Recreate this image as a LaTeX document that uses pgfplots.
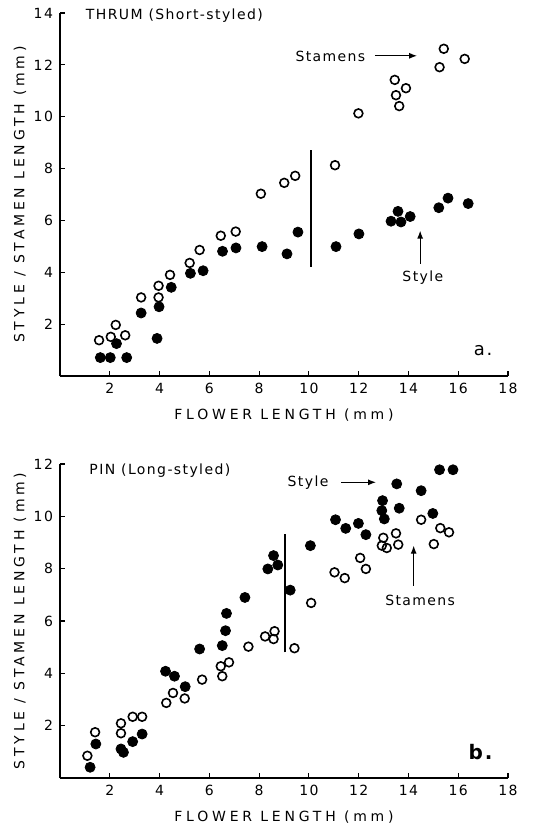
\documentclass[border=0pt]{standalone}
\usepackage{fontspec}
\setmainfont{DejaVu Sans}[LetterSpace=10]
\newfontfamily\labfont{DejaVu Sans}[LetterSpace=27]
\usepackage{pgfplots}
\pgfplotsset{compat=1.18}
\usetikzlibrary{arrows.meta}

\tikzset{note/.style={font=\fontsize{7}{8}\selectfont}}
\pgfplotsset{
  panel/.style={
    scale only axis, width=224pt,
    xmin=0, xmax=18, ymin=0,
    axis lines=left, axis line style={-, line width=0.8pt},
    xtick={2,4,...,18},
    tick align=inside, major tick length=2.5pt,
    tick style={line width=0.6pt, black},
    /pgf/number format/assume math mode=true,
    tick label style={font=\fontsize{7}{8}\selectfont},
    label style={font=\labfont\fontsize{7}{8}\selectfont},
    xlabel={FLOWER LENGTH (mm)},
    ylabel={STYLE / STAMEN LENGTH (mm)},
    xlabel style={at={(axis description cs:0.5,0)}, anchor=center, yshift=-19.5pt},
    ylabel style={at={(axis description cs:-0.0893,0.5)}, anchor=center},
    clip=false,
  },
  stamen/.style={only marks, mark=o, mark size=2.2pt, mark options={line width=0.8pt, black}},
  stylem/.style={only marks, mark=*, mark size=2.5pt, black},
}

\begin{document}
\begin{tikzpicture}
\path[use as bounding box] (-30pt,-227.5pt) rectangle (245.5pt,188pt);

% a. thrum
\begin{axis}[panel, height=181.5pt, ymax=14, ytick={2,4,...,14}]
\addplot[stamen] coordinates {
  (1.57,1.38) (2.04,1.51) (2.24,1.97) (2.62,1.57) (3.26,3.03) (3.96,3.48)
  (3.96,3.03) (4.42,3.90) (5.21,4.36) (5.61,4.86) (6.46,5.41) (7.06,5.57)
  (8.07,7.03) (9.01,7.45) (9.45,7.72) (11.05,8.13) (11.99,10.13) (13.45,11.42)
  (13.50,10.83) (13.63,10.41) (13.90,11.10) (15.25,11.91) (15.42,12.62) (16.26,12.23)
};
\addplot[stylem] coordinates {
  (1.62,0.71) (2.02,0.71) (2.27,1.25) (2.68,0.71) (3.26,2.43) (3.90,1.45)
  (3.98,2.67) (4.47,3.42) (5.24,3.96) (5.75,4.06) (6.53,4.81) (7.07,4.94)
  (8.12,4.99) (9.12,4.71) (9.56,5.55) (11.09,4.99) (12.01,5.48) (13.30,5.97)
  (13.58,6.35) (13.70,5.94) (14.07,6.15) (15.22,6.49) (15.59,6.86) (16.40,6.65)
};
\addplot[black, line width=0.8pt] coordinates {(10.09,4.22) (10.09,8.71)};
\node[note, anchor=west] at (axis cs:0.76,13.9) {THRUM (Short-styled)};
\node[note, anchor=east] at (axis cs:12.55,12.32) {Stamens};
\draw[line width=0.6pt, -{Latex[length=4pt]}] (axis cs:12.65,12.35) -- (axis cs:14.35,12.35);
\draw[line width=0.6pt, -{Latex[length=4pt]}] (axis cs:14.47,4.32) -- (axis cs:14.47,5.61);
\node[note] at (axis cs:14.58,3.81) {Style};
\node[font=\fontsize{9}{10}\selectfont] at (axis cs:17.0,0.98) {a.};
\end{axis}

% b. pin
\begin{axis}[panel, at={(0,-201pt)}, anchor=south west, height=157pt, ymax=12, ytick={2,4,...,12}]
\addplot[stamen] coordinates {
  (1.10,0.85) (1.41,1.75) (2.45,2.09) (2.45,1.71) (2.92,2.34) (3.30,2.34)
  (4.27,2.87) (4.54,3.25) (5.01,3.04) (5.71,3.76) (6.46,4.27) (6.52,3.89)
  (6.79,4.42) (7.57,5.02) (8.24,5.41) (8.62,5.61) (8.58,5.31) (9.42,4.96)
  (10.09,6.69) (11.03,7.86) (11.44,7.64) (12.06,8.41) (12.29,7.99) (12.99,9.18)
  (12.93,8.88) (13.13,8.79) (13.50,9.35) (13.59,8.92) (14.51,9.87) (15.02,8.94)
  (15.28,9.55) (15.63,9.39)
};
\addplot[stylem] coordinates {
  (1.21,0.41) (1.44,1.30) (2.45,1.11) (2.55,0.98) (2.92,1.39) (3.30,1.68)
  (4.24,4.08) (4.60,3.89) (5.03,3.49) (5.61,4.93) (6.52,5.06) (6.65,5.63)
  (6.69,6.29) (7.43,6.90) (8.35,7.99) (8.58,8.50) (8.75,8.14) (9.25,7.18)
  (10.06,8.88) (11.07,9.87) (11.48,9.54) (11.99,9.73) (12.29,9.30) (12.96,10.60)
  (12.93,10.22) (13.03,9.90) (13.53,11.24) (13.63,10.31) (14.51,10.98) (14.98,10.11)
  (15.25,11.78) (15.79,11.78)
};
\addplot[black, line width=0.8pt] coordinates {(9.05,4.80) (9.05,9.32)};
\node[note, anchor=west] at (axis cs:0.9,11.74) {PIN (Long-styled)};
\node[note, anchor=east] at (axis cs:11.07,11.3) {Style};
\draw[line width=0.6pt, -{Latex[length=4pt]}] (axis cs:11.3,11.3) -- (axis cs:12.7,11.3);
\draw[line width=0.6pt, -{Latex[length=4pt]}] (axis cs:14.21,7.35) -- (axis cs:14.21,8.88);
\node[note] at (axis cs:14.47,6.78) {Stamens};
\node[font=\bfseries\fontsize{10}{11}\selectfont] at (axis cs:16.9,0.98) {b.};
\end{axis}
\end{tikzpicture}
\end{document}
